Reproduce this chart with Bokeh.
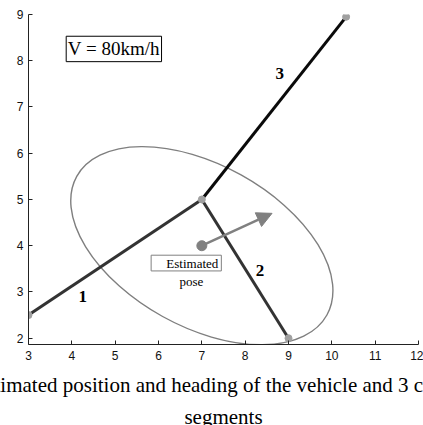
from bokeh.plotting import figure
from bokeh.models import Range1d, Title, Arrow, NormalHead, FixedTicker
from bokeh.core.properties import value
from bokeh.embed import file_html
from bokeh.resources import INLINE

# ---- data ----
seg_x0 = [3, 7, 7]
seg_y0 = [2.5, 5, 5]
seg_x1 = [7, 9, 10.33]
seg_y1 = [5, 2, 8.95]
seg_colors = ["#333333", "#333333", "#0a0a0a"]
seg_names = ["1", "2", "3"]
seg_label_x = [4.25, 8.34, 8.8]
seg_label_y = [2.9, 3.46, 7.72]

vert_x = [3, 7, 9, 10.33]
vert_y = [2.5, 5, 2, 8.95]

pose_x = [7]
pose_y = [4]
heading_x = [8.62]
heading_y = [4.70]

ell_x = [7]
ell_y = [4]
ell_w = [6.6]
ell_h = [3.5]
ell_angle = [-0.506]

speed_text = ["V = 80km/h"]
speed_box = dict(left=[3.87], right=[6.07], bottom=[7.98], top=[8.53])
pose_box = dict(left=[5.83], right=[7.45], bottom=[3.455], top=[3.795])
pose_text = ["Estimated", "pose"]
pose_text_x = [6.78, 6.76]
pose_text_y = [3.625, 3.23]

x_ticks = [3, 4, 5, 6, 7, 8, 9, 10, 11, 12]
y_ticks = [2, 3, 4, 5, 6, 7, 8, 9]

caption1 = "Estimated position and heading of the vehicle and 3 candidate"
caption2 = "segments"

# ---- figure ----
p = figure(width=423, height=425, output_backend="svg", toolbar_location=None,
           x_range=Range1d(3, 12), y_range=Range1d(1.864, 9),
           min_border_left=28, min_border_right=5, min_border_top=14, min_border_bottom=0)
p.outline_line_color = None
p.xgrid.visible = False
p.ygrid.visible = False
p.background_fill_color = "white"

for ax, ticks in ((p.xaxis[0], x_ticks), (p.yaxis[0], y_ticks)):
    ax.ticker = FixedTicker(ticks=ticks)
    ax.major_tick_in = 4
    ax.major_tick_out = 0
    ax.minor_tick_in = 0
    ax.minor_tick_out = 0
    ax.axis_line_color = "#222222"
    ax.major_tick_line_color = "#222222"
    ax.major_label_text_font = "Liberation Sans"
    ax.major_label_text_font_size = "12px"
    ax.major_label_text_color = "#111111"
p.xaxis.major_label_standoff = 6
p.yaxis.major_label_standoff = 5

# uncertainty ellipse
p.ellipse(x=ell_x, y=ell_y, width=ell_w, height=ell_h, angle=ell_angle,
          fill_color=None, line_color="#7f7f7f", line_width=1.4)

# segments
p.segment(x0=seg_x0, y0=seg_y0, x1=seg_x1, y1=seg_y1, line_color=seg_colors, line_width=3)

# vertices
p.scatter(vert_x, vert_y, size=7, marker="circle", fill_color="#a0a0a0", line_color="#a0a0a0")

# heading arrow
p.add_layout(Arrow(end=NormalHead(size=15, fill_color="#808080", line_color="#808080"),
                   x_start=pose_x[0], y_start=pose_y[0], x_end=heading_x[0], y_end=heading_y[0],
                   line_color="#808080", line_width=2.5))
p.scatter(pose_x, pose_y, size=10, marker="circle", fill_color="#808080", line_color="#808080")

# segment numbers
p.text(x=seg_label_x, y=seg_label_y, text=seg_names, text_font=value("Liberation Serif"),
       text_font_size="17px", text_font_style="bold", text_align="center",
       text_baseline="middle", text_color="black")

# speed box
p.quad(**speed_box, fill_color="white", line_color="black", line_width=1)
p.text(x=[(speed_box["left"][0] + speed_box["right"][0]) / 2],
       y=[(speed_box["bottom"][0] + speed_box["top"][0]) / 2],
       text=speed_text, text_font=value("Liberation Serif"), text_font_size="19px",
       text_align="center", text_baseline="middle", text_color="black")

# estimated pose box
p.quad(**pose_box, fill_color="white", line_color="#808080", line_width=1)
p.text(x=pose_text_x, y=pose_text_y, text=pose_text, text_font=value("Liberation Serif"),
       text_font_size="13px", text_align="center", text_baseline="middle", text_color="black")

# caption
t1 = Title(text=caption1, align="left", offset=-55, text_font="Liberation Serif",
           text_font_size="21px", text_font_style="normal", text_color="black", standoff=17,
           text_line_height=1.0)
t2 = Title(text=caption2, align="center", offset=-9, text_font="Liberation Serif",
           text_font_size="21px", text_font_style="normal", text_color="black", standoff=-6,
           text_line_height=1.0)
p.add_layout(t1, "below")
p.add_layout(t2, "below")

open("out.html", "w").write(file_html(p, INLINE))
